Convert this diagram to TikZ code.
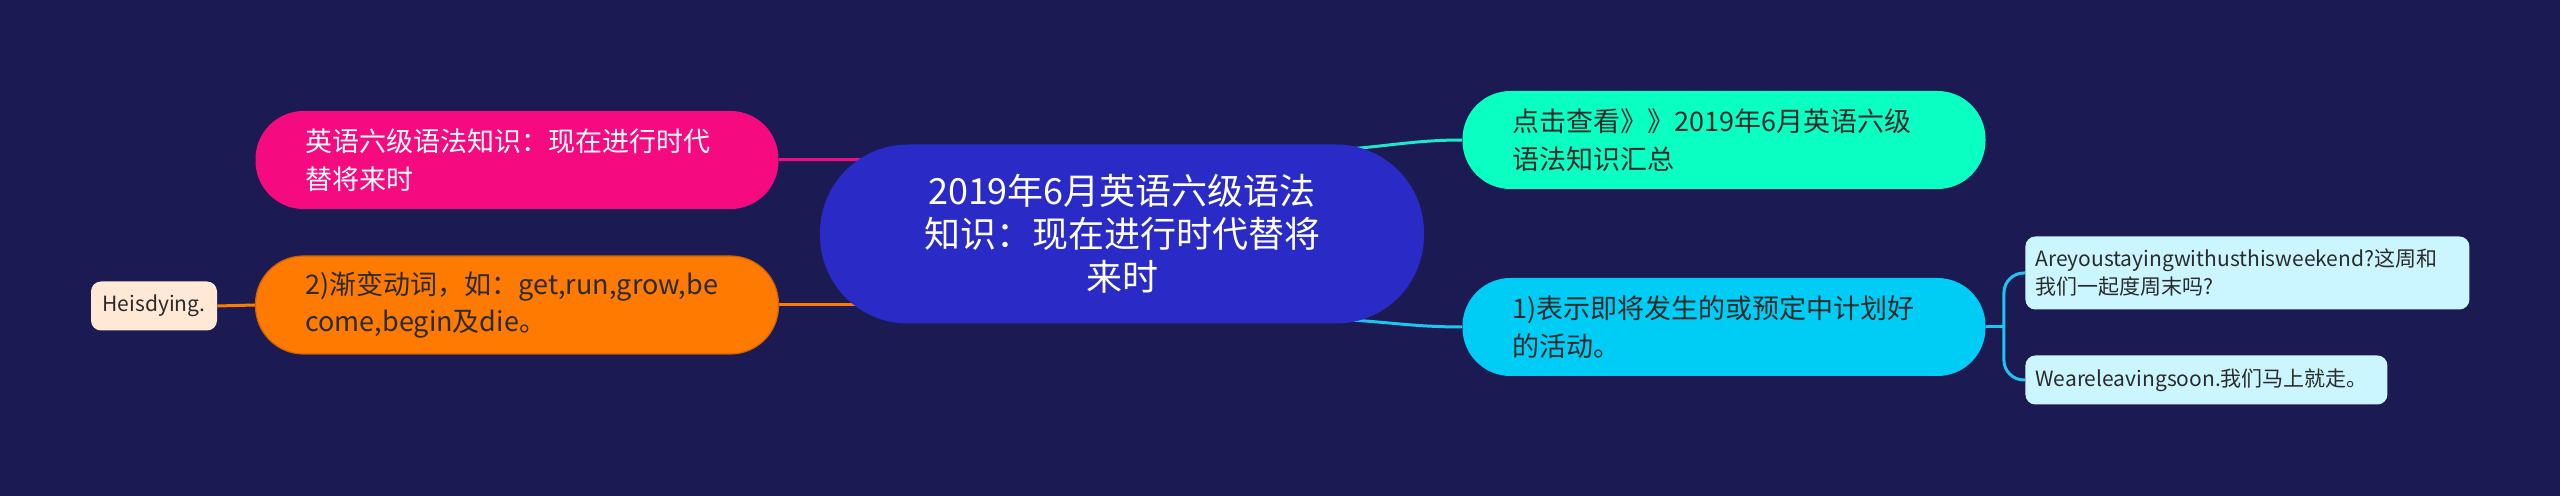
\documentclass[tikz,border=0pt]{standalone}
\usepackage{fontspec}
\setmainfont{Noto Sans CJK SC}
\usetikzlibrary{positioning, calc}
\definecolor{MapBg}{HTML}{1B1A53}
\definecolor{MapRoot}{HTML}{2A2BC6}
\definecolor{MapPink}{HTML}{F50A7F}
\definecolor{MapOrange}{HTML}{FF7A00}
\definecolor{MapTeal}{HTML}{0AFFC3}
\definecolor{MapTealLine}{HTML}{1EE8C8}
\definecolor{MapCyan}{HTML}{00CDF5}
\definecolor{MapCyanLine}{HTML}{1EC6EE}
\definecolor{MapLeaf}{HTML}{CCF6FF}
\definecolor{MapPeach}{HTML}{FFE8D5}
\definecolor{MapInk}{HTML}{2B2B2B}
\pgfdeclarelayer{bg}
\pgfdeclarelayer{edges}
\pgfsetlayers{bg,edges,main}

\begin{document}
\begin{tikzpicture}[x=0.5pt, y=-0.5pt,
    root/.style={fill=MapRoot, text=white, rounded corners=44pt,
                 minimum width=302pt, minimum height=89.5pt, align=center,
                 font=\fontsize{18pt}{21.5pt}\selectfont},
    branch/.style={fill=#1, rounded corners=24pt, minimum height=49pt,
                   inner xsep=25pt, text width=211.5pt, align=left,
                   font=\fontsize{13.5pt}{18.75pt}\selectfont},
    leaf/.style={fill=#1, rounded corners=5pt, inner xsep=5pt,
                 align=left, text=MapInk,
                 font=\fontsize{10.5pt}{14pt}\selectfont},
    link/.style={draw=#1, line width=1.5pt}]
  % Background
  \begin{pgfonlayer}{bg}
    \fill[MapBg] (0,0) rectangle (2560,496);
  \end{pgfonlayer}
  % Root
  \node[root] (root) at (1122,234) {2019年6月英语六级语法\\知识：现在进行时代替将\\来时};
  % Left side
  \node[branch=MapPink, text=white] (pink) at (517,160)
    {英语六级语法知识：现在进行时代\\替将来时};
  \node[branch=MapOrange, text=MapInk, draw=MapOrange!80!black, line width=0.6pt]
    (orange) at (517,305) {2)渐变动词，如：get,run,grow,be\\come,begin及die。};
  \node[leaf=MapPeach, minimum width=63pt, minimum height=24.5pt, align=center]
    (heis) at (154,306) {Heisdying.};
  % Right side
  \node[branch=MapTeal, text=MapInk] (teal) at (1724,140)
    {点击查看》》2019年6月英语六级\\语法知识汇总};
  \node[branch=MapCyan, text=MapInk] (cyan) at (1724,327)
    {1)表示即将发生的或预定中计划好\\的活动。};
  \node[leaf=MapLeaf, text width=212pt, minimum height=36.5pt, anchor=west]
    (ask) at (2025,273) {Areyoustayingwithusthisweekend?这周和\\我们一起度周末吗?};
  \node[leaf=MapLeaf, text width=171pt, minimum height=24.5pt, anchor=west]
    (leave) at (2025,380) {Weareleavingsoon.我们马上就走。};
  % Connectors
  \begin{pgfonlayer}{edges}
    \draw[link=MapPink] (pink.east) -- (pink.east -| root.center);
    \draw[link=MapOrange] (orange.east) -- (orange.east -| root.center);
    \draw[link=MapOrange] (heis.east) -- (orange.west);
    \draw[link=MapTealLine] ($(root.north east)+(-110,6)$) to[out=0, in=180] (teal.west);
    \draw[link=MapCyanLine] ($(root.south east)+(-110,-5)$) to[out=0, in=180] (cyan.west);
    \coordinate (fork) at ($(cyan.east)+(18,0)$);
    \draw[link=MapCyanLine] (cyan.east) -- (fork);
    \draw[link=MapCyanLine, rounded corners=10pt] (fork) |- (ask.west);
    \draw[link=MapCyanLine, rounded corners=10pt] (fork) |- (leave.west);
  \end{pgfonlayer}
\end{tikzpicture}
\end{document}
